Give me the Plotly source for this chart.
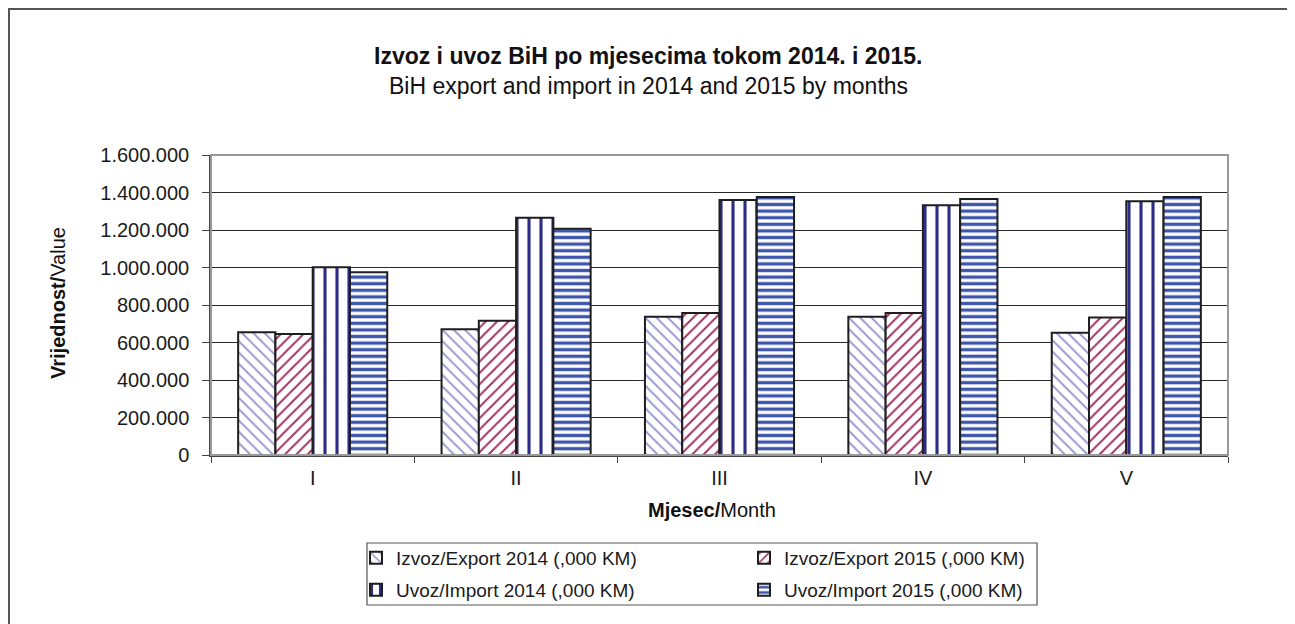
import plotly.graph_objects as go

months = ["I", "II", "III", "IV", "V"]
export_2014 = [655000, 671000, 737000, 737000, 652000]
export_2015 = [646000, 716000, 757000, 757000, 734000]
import_2014 = [1002000, 1266000, 1360000, 1332000, 1353000]
import_2015 = [975000, 1207000, 1376000, 1366000, 1376000]
series_names = [
    "Izvoz/Export 2014 (,000 KM)",
    "Izvoz/Export 2015 (,000 KM)",
    "Uvoz/Import 2014 (,000 KM)",
    "Uvoz/Import 2015 (,000 KM)",
]
y_ticks = [0, 200000, 400000, 600000, 800000, 1000000, 1200000, 1400000, 1600000]

FONT = "Liberation Sans, Arial, sans-serif"
# page body has an 8px margin; figure sized so the plot area lands at the reference pixels
W, H = 1287, 616
L, R, T, B = 203, 67, 147, 169
PLOT_L, PLOT_R, PLOT_T, PLOT_B = 211, 1228, 155, 455  # reference pixel coordinates
pw, ph = PLOT_R - PLOT_L, PLOT_B - PLOT_T

def px_x(x):
    return (x - PLOT_L) / pw

def px_y(y):
    return (PLOT_B - y) / ph

patterns = [
    dict(shape="\\", fgcolor="#9a9ad2", bgcolor="white", size=8, solidity=0.24, fgopacity=1),
    dict(shape="/", fgcolor="#a3305f", bgcolor="white", size=8, solidity=0.24, fgopacity=1),
    dict(shape="|", fgcolor="#2b2b88", bgcolor="white", size=12, solidity=0.26, fgopacity=1),
    dict(shape="-", fgcolor="#3d55aa", bgcolor="white", size=6.6, solidity=0.5, fgopacity=1),
]
data = [export_2014, export_2015, import_2014, import_2015]
legend_ids = ["legend", "legend", "legend2", "legend2"]

fig = go.Figure()
for name, vals, pat, lg in zip(series_names, data, patterns, legend_ids):
    fig.add_trace(go.Bar(
        x=months, y=vals, name=name, legend=lg,
        marker=dict(color="white", pattern=pat, line=dict(color="#1e1e1e", width=2)),
    ))

legend_common = dict(
    orientation="h", x=px_x(356), xanchor="left", yanchor="middle",
    font=dict(size=19, family=FONT, color="#1a1a1a"),
    borderwidth=0, bgcolor="rgba(0,0,0,0)",
    entrywidth=343, entrywidthmode="pixels", traceorder="normal",
)

fig.update_layout(
    width=W, height=H,
    margin=dict(l=L, r=R, t=T, b=B),
    paper_bgcolor="white", plot_bgcolor="white",
    separators=",.",
    barmode="group", bargap=0.267, bargroupgap=0,
    font=dict(family=FONT, size=20, color="#1a1a1a"),
    showlegend=True,
    legend=dict(legend_common, y=px_y(558)),
    legend2=dict(legend_common, y=px_y(590)),
    xaxis=dict(
        type="category", showgrid=False, showline=True, linecolor="#444", linewidth=1.5,
        ticks="outside", tickson="boundaries", ticklen=6, tickcolor="#444",
        tickfont=dict(size=20), ticklabelstandoff=4,
    ),
    yaxis=dict(
        range=[0, 1600000], tickvals=y_ticks, tickformat=",d",
        showgrid=True, gridcolor="#2a2a2a", gridwidth=1,
        showline=True, linecolor="#444", linewidth=1.5,
        ticks="outside", ticklen=7, tickcolor="#444",
        tickfont=dict(size=20), ticklabelstandoff=9,
        zeroline=False,
    ),
    shapes=[
        dict(type="rect", xref="paper", yref="paper", x0=0, x1=1, y0=0, y1=1,
             line=dict(color="#999", width=2), fillcolor="rgba(0,0,0,0)", layer="above"),
        dict(type="rect", xref="paper", yref="paper",
             x0=px_x(9), y0=px_y(9), x1=px_x(1400), y1=px_y(700),
             line=dict(color="#555", width=2), fillcolor="rgba(0,0,0,0)"),
        dict(type="rect", xref="paper", yref="paper",
             x0=px_x(367), y0=px_y(543), x1=px_x(1037), y1=px_y(605),
             line=dict(color="#555", width=1.2), fillcolor="rgba(0,0,0,0)"),
    ],
    annotations=[
        dict(text="<b>Izvoz i uvoz BiH po mjesecima tokom 2014. i 2015.</b>",
             xref="paper", yref="paper", x=px_x(648), y=px_y(56),
             xanchor="center", yanchor="middle", showarrow=False,
             font=dict(size=23, family=FONT, color="#111")),
        dict(text="BiH export and import in 2014 and 2015 by months",
             xref="paper", yref="paper", x=px_x(648), y=px_y(86),
             xanchor="center", yanchor="middle", showarrow=False,
             font=dict(size=23, family=FONT, color="#111")),
        dict(text="<b>Mjesec/</b>Month",
             xref="paper", yref="paper", x=px_x(712), y=px_y(510),
             xanchor="center", yanchor="middle", showarrow=False,
             font=dict(size=20, family=FONT, color="#111")),
        dict(text="<b>Vrijednost/</b>Value",
             xref="paper", yref="paper", x=px_x(58), y=px_y(303),
             xanchor="center", yanchor="middle", showarrow=False, textangle=-90,
             font=dict(size=20, family=FONT, color="#111")),
    ],
)

fig.write_html("out.html")
